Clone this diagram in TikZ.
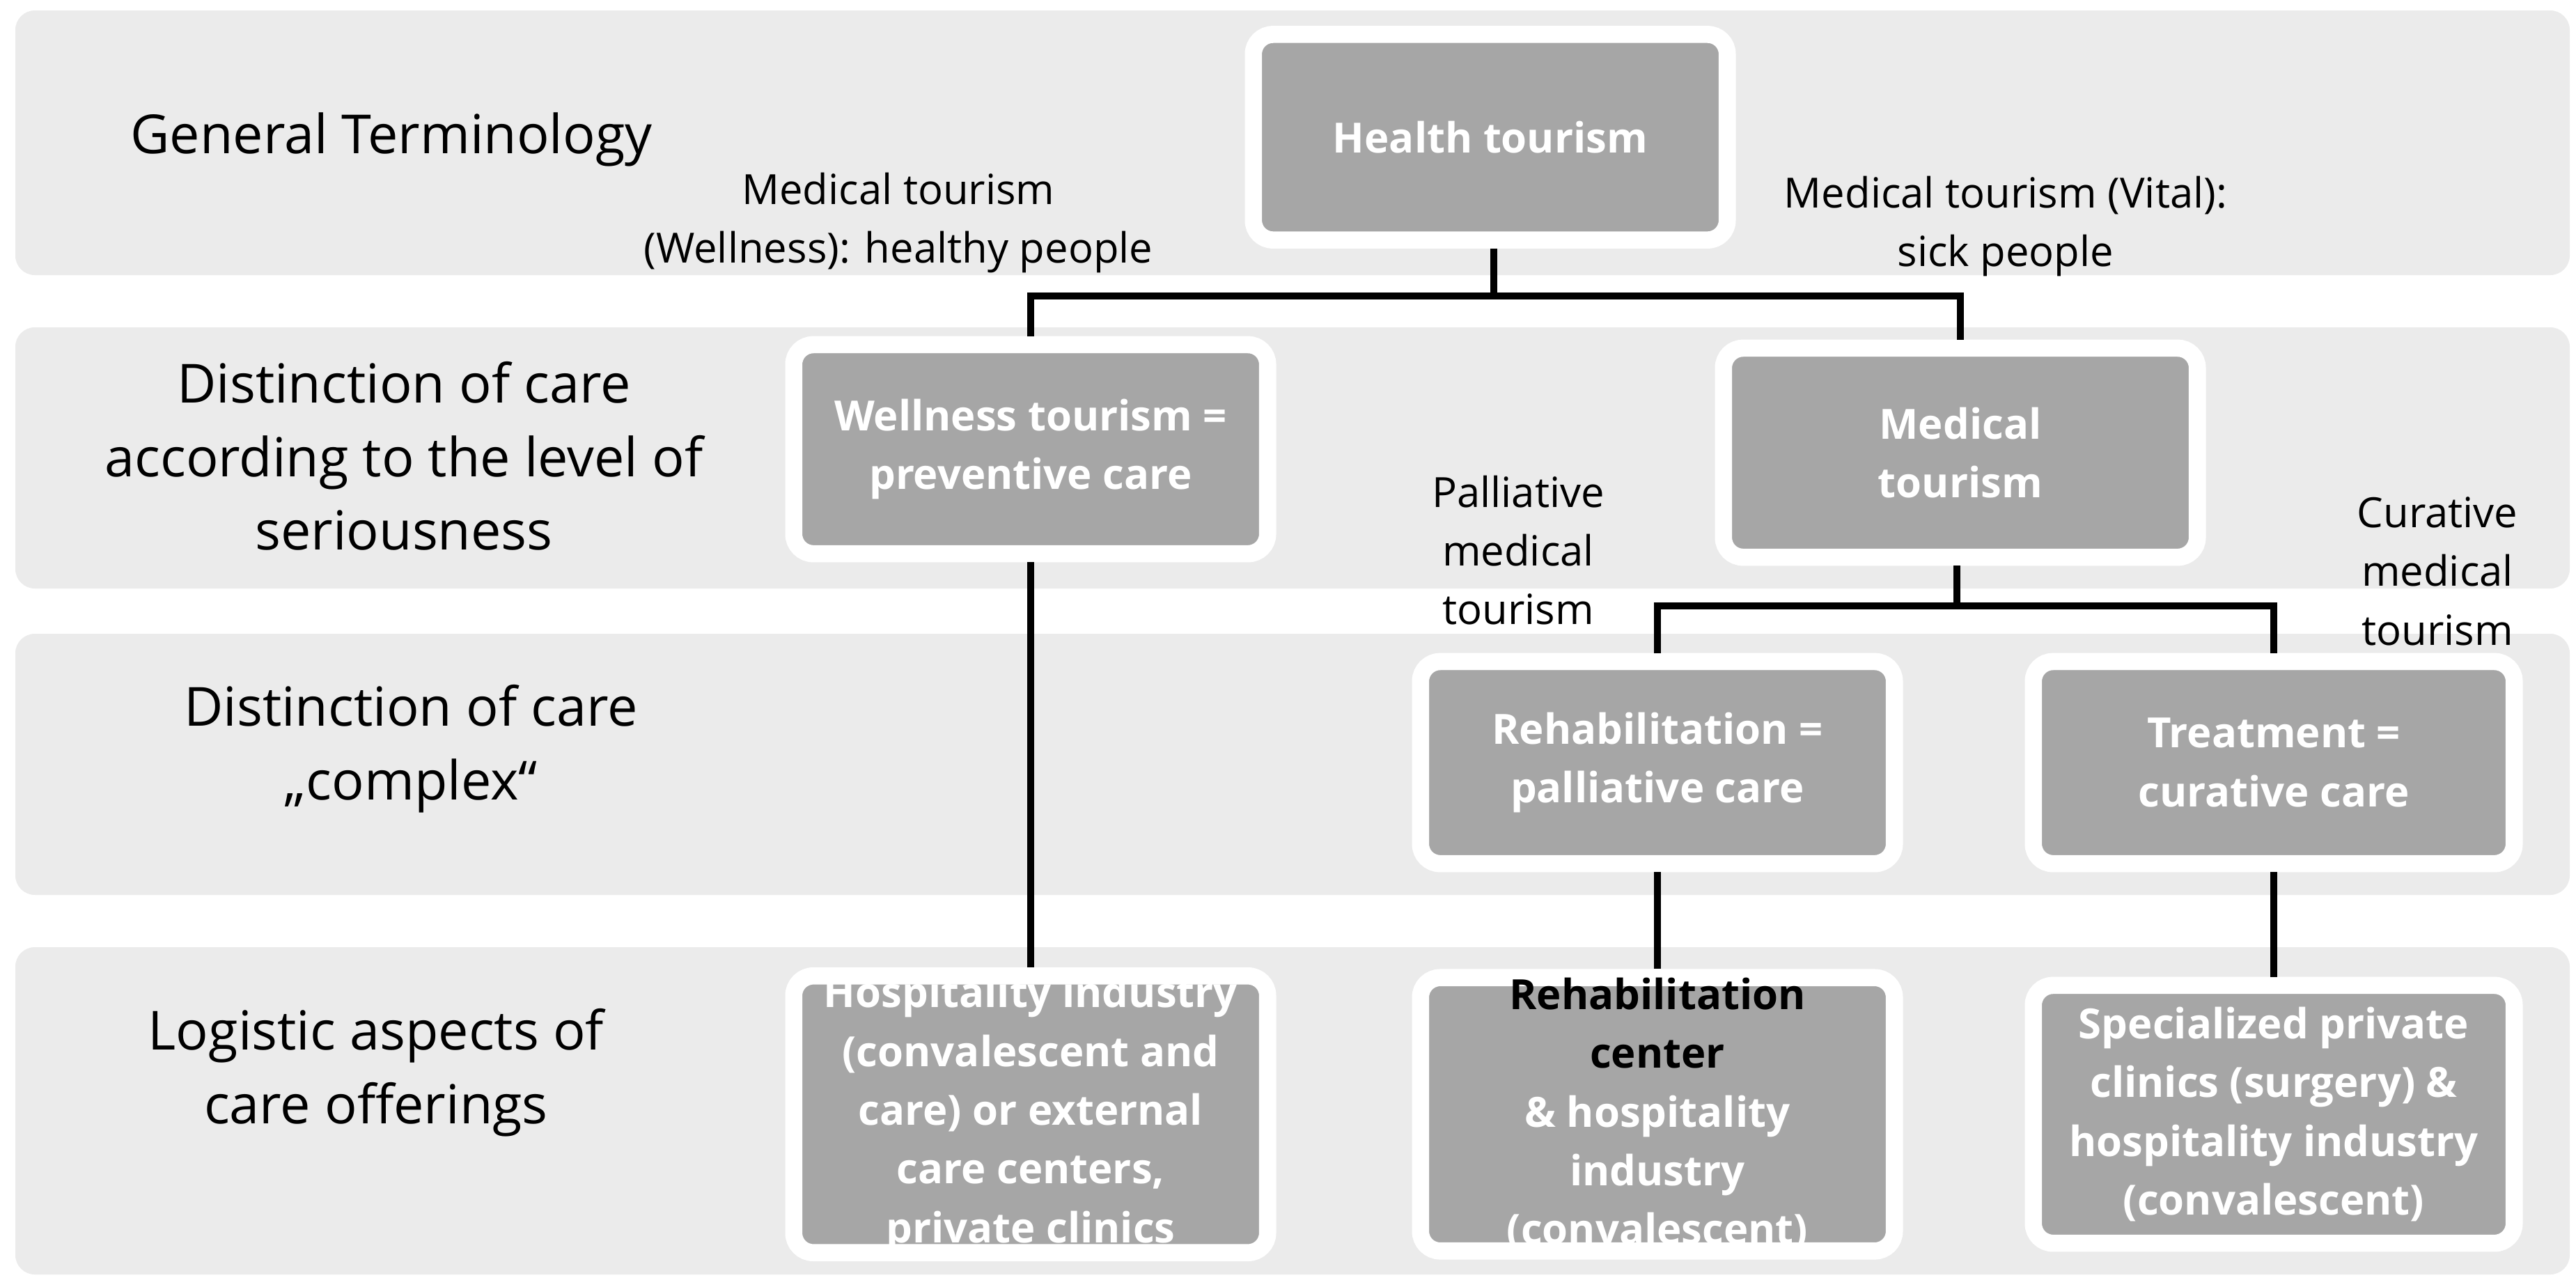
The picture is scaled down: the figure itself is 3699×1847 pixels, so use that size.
\documentclass[tikz,border=0pt]{standalone}
\usepackage{fontspec}
\setmainfont{Open Sans}
\begin{document}
\begin{tikzpicture}[x=0.01cm,y=-0.01cm,
band/.style={fill=black!8,draw=none,rounded corners=8pt},
bx/.style={fill=black!35,draw=white,line width=7pt,rounded corners=8pt,align=center,font=\fontsize{17}{24}\selectfont\bfseries,text=white,inner sep=0pt},
lbl/.style={align=center,font=\fontsize{17}{24}\selectfont},
rl/.style={align=center,font=\fontsize{22}{30}\selectfont},
ln/.style={line width=3pt}]
\useasboundingbox (0,0) rectangle (3699,1847);
\fill[white] (0,0) rectangle (3699,1847);
\fill[band] (22,15) rectangle (3690,395);
\fill[band] (22,470) rectangle (3690,845);
\fill[band] (22,910) rectangle (3690,1285);
\fill[band] (22,1360) rectangle (3690,1830);
\node[bx,minimum width=6.8cm,minimum height=2.95cm] (ht) at (2140,197) {Health tourism};
\node[bx,minimum width=6.8cm,minimum height=3.0cm] (wt) at (1480,645) {Wellness tourism =\\preventive care};
\node[bx,minimum width=6.8cm,minimum height=3.0cm] (mt) at (2815,650) {Medical\\tourism};
\node[bx,minimum width=6.8cm,minimum height=2.9cm] (rp) at (2380,1095) {Rehabilitation =\\palliative care};
\node[bx,minimum width=6.9cm,minimum height=2.9cm] (tc) at (3265,1095) {Treatment =\\curative care};
\node[bx,minimum width=6.8cm,minimum height=3.7cm] (hi) at (1480,1600) {Hospitality industry\\(convalescent and\\care) or external\\care centers,\\private clinics};
\node[bx,minimum width=6.8cm,minimum height=3.7cm] (rc) at (2380,1600) {\textcolor{black}{Rehabilitation}\\\textcolor{black}{center}\\\& hospitality\\industry\\(convalescent)};
\node[bx,minimum width=6.9cm,minimum height=3.7cm] (sp) at (3265,1600) {Specialized private\\clinics (surgery) \&\\hospitality industry\\(convalescent)};
\coordinate (j1) at (2145,425);
\coordinate (j2) at (2810,870);
\draw[ln] (ht.south -| j1) -- (j1) -| (wt.north);
\draw[ln] (j1) -| (mt.north);
\draw[ln] (wt.south) -- (hi.north);
\draw[ln] (mt.south -| j2) -- (j2) -| (rp.north);
\draw[ln] (j2) -| (tc.north);
\draw[ln] (rp.south) -- (rc.north);
\draw[ln] (tc.south) -- (sp.north);
\node[rl,anchor=west] (gt) at (175,200) {General Terminology};
\node[rl] (r2) at (580,655) {Distinction of care\\according to the level of\\seriousness};
\node[rl] (r3) at (590,1075) {Distinction of care\\„complex“};
\node[rl] (r4) at (540,1540) {Logistic aspects of\\care offerings};
\node[lbl] (l1) at (1290,320) {Medical tourism\\(Wellness): healthy people};
\node[lbl] (l2) at (2880,325) {Medical tourism (Vital):\\sick people};
\node[lbl] (l3) at (2180,790) {Palliative\\medical\\tourism};
\node[lbl] (l4) at (3500,820) {Curative\\medical\\tourism};
\end{tikzpicture}
\end{document}
